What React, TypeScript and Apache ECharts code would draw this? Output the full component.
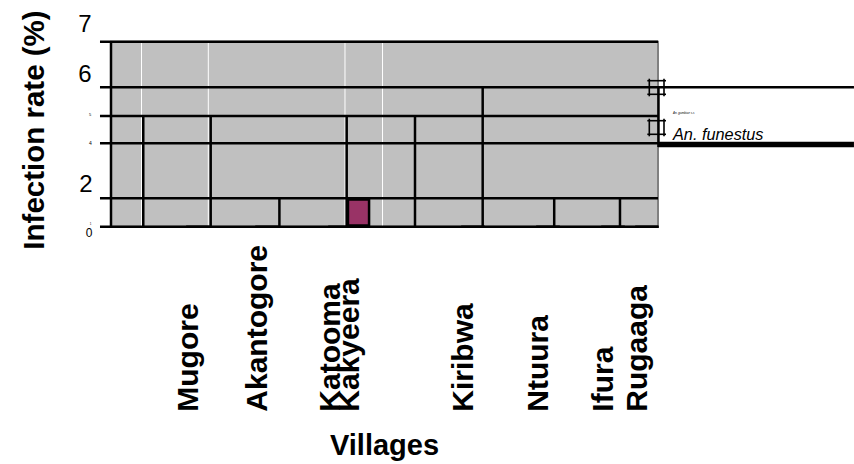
import React, { useEffect, useRef } from 'react';
import * as echarts from 'echarts';

// Villages (x-axis categories) and where each sits along the horizontal axis
const villages = ['Mugore', 'Akantogore', 'Katooma', 'Kakyeera', 'Kiribwa', 'Ntuura', 'Ifura', 'Rugaaga'];
const villageX = [1.272, 2.282, 3.349, 3.62, 5.294, 6.391, 7.342, 7.839];
// Infection rate (%) per village
const infectionRate = [0, 0, 0, 1.075, 0, 0, 0, 0];

// Y tick labels as printed in the figure
const yTickLabels = ['7', '6', '5', '4', '2', '1', '0'];

// Legend entries
const legendNames = ['An. gambiae s.s', 'An. funestus'];

// Horizontal rules: [y, xStart, xEnd]
const hRules = [
  [7, -0.161, 8],
  [5.274, -0.161, 10.866],
  [4.19, -0.161, 8],
  [3.156, -0.161, 8],
  [1.075, -0.161, 8],
  [0, -0.161, 8],
];
const hRulesHeavy = [[3.11, 8, 10.866]];
// Vertical rules: [x, yStart, yEnd]
const vRules = [
  [0, 0, 7],
  [0.472, 0, 4.19],
  [1.458, 0, 4.19],
  [2.463, 0, 1.075],
  [3.447, 0, 4.19],
  [4.446, 0, 4.19],
  [5.436, 0, 5.274],
  [6.482, 0, 1.075],
  [7.444, 0, 1.075],
  [8.007, 3.015, 5.274],
];
const whiteRules = [0.446, 1.423, 3.422, 3.971];

const FONT = '"Liberation Sans", Arial, Helvetica, sans-serif';

function segSeries(name: string, data: number[][], horizontal: boolean, color: string, width: number, z: number) {
  return {
    type: 'custom',
    name,
    data,
    z,
    silent: true,
    clip: false,
    renderItem: (_params: any, api: any) => {
      const a = api.value(0);
      const b = api.value(1);
      const c = api.value(2);
      const p0 = horizontal ? api.coord([b, a]) : api.coord([a, b]);
      const p1 = horizontal ? api.coord([c, a]) : api.coord([a, c]);
      return {
        type: 'line',
        shape: { x1: p0[0], y1: p0[1], x2: p1[0], y2: p1[1] },
        style: { stroke: color, lineWidth: width },
      };
    },
  };
}

// layout of the printed y tick labels: [centerX, centerY, fontSize]
const yTickLayout = [
  [85, 23.6, 24],
  [85, 73.3, 24],
  [90, 114, 4],
  [90.5, 143, 5],
  [86, 183.3, 24],
  [90.5, 224, 3],
  [89, 233, 12],
];

function legendMark(cy: number) {
  const l = 649.3, r = 664, t = cy - 6.8, b = cy + 6.8;
  const st = { stroke: '#000', lineWidth: 1.6 };
  return [
    { type: 'line', shape: { x1: l, y1: t - 2, x2: l, y2: b + 2 }, style: st, z: 10 },
    { type: 'line', shape: { x1: r, y1: t - 2, x2: r, y2: b + 2 }, style: st, z: 10 },
    { type: 'line', shape: { x1: l - 2, y1: t, x2: r + 2, y2: t }, style: st, z: 10 },
    { type: 'line', shape: { x1: l - 2, y1: b, x2: r + 2, y2: b }, style: st, z: 10 },
  ];
}

export default function App() {
  const ref = useRef<HTMLDivElement>(null);
  useEffect(() => {
    document.body.style.margin = '0';
    const chart = echarts.init(ref.current!, undefined, { renderer: 'svg' });
    const graphic: any[] = [];
    yTickLabels.forEach((t, i) => {
      const [x, y, fs] = yTickLayout[i];
      graphic.push({
        type: 'text',
        x,
        y,
        style: {
          text: t,
          fill: '#000',
          fontSize: fs,
          fontFamily: FONT,
          align: 'center',
          verticalAlign: 'middle',
          textAlign: 'center',
          textVerticalAlign: 'middle',
        },
      });
    });
    // y-axis title
    graphic.push({
      type: 'text',
      x: 33.9,
      y: 130,
      rotation: Math.PI / 2,
      style: {
        text: 'Infection rate (%)',
        fill: '#000',
        fontSize: 29.5,
        fontWeight: 'bold',
        fontFamily: FONT,
        align: 'center',
        verticalAlign: 'middle',
        textAlign: 'center',
        textVerticalAlign: 'middle',
      },
    });
    graphic.push(...legendMark(87.5), ...legendMark(127.5));
    graphic.push({
      type: 'text',
      x: 673,
      y: 112.7,
      style: {
        text: legendNames[0], fill: '#000', fontSize: 3, fontStyle: 'italic', fontFamily: FONT,
        align: 'left', verticalAlign: 'middle', textAlign: 'left', textVerticalAlign: 'middle',
      },
    });
    graphic.push({
      type: 'text',
      x: 673,
      y: 133.5,
      style: {
        text: legendNames[1], fill: '#000', fontSize: 16.3, fontStyle: 'italic', fontFamily: FONT,
        align: 'left', verticalAlign: 'middle', textAlign: 'left', textVerticalAlign: 'middle',
      },
    });

    const option: any = {
      animation: false,
      backgroundColor: '#ffffff',
      grid: {
        left: 111,
        top: 41.7,
        width: 547,
        height: 185,
        show: true,
        backgroundColor: '#c0c0c0',
        borderColor: '#808080',
        borderWidth: 2,
        containLabel: false,
        outerBoundsMode: 'none',
      },
      xAxis: {
        type: 'value',
        min: 0,
        max: 8,
        axisLine: { show: false },
        axisTick: { show: false },
        splitLine: { show: false },
        axisLabel: {
          customValues: villageX,
          formatter: (v: number) => {
            let best = 0;
            villageX.forEach((x, i) => {
              if (Math.abs(x - v) < Math.abs(villageX[best] - v)) best = i;
            });
            return villages[best];
          },
          rotate: 90,
          align: 'left',
          verticalAlign: 'bottom',
          lineHeight: 21,
          margin: 185,
          fontSize: 30,
          fontWeight: 'bold',
          fontFamily: FONT,
          color: '#000',
          hideOverlap: false,
        },
        name: 'Villages',
        nameLocation: 'middle',
        nameGap: 218.3,
        nameMoveOverlap: false,
        nameTextStyle: {
          fontSize: 29,
          fontWeight: 'bold',
          fontFamily: FONT,
          color: '#000',
          align: 'center',
          verticalAlign: 'middle',
        },
      },
      yAxis: {
        type: 'value',
        min: 0,
        max: 7,
        axisLine: { show: false },
        axisTick: { show: false },
        axisLabel: { show: false },
        splitLine: { show: false },
      },
      graphic,
      series: [
        segSeries('whiteRules', whiteRules.map((x) => [x, 0, 7]), false, '#ffffff', 1, 1),
        {
          type: 'bar',
          name: 'Infection rate',
          data: villageX.map((x, i) => [x, infectionRate[i]]),
          barWidth: 23.6,
          z: 2,
          itemStyle: { color: '#993366', borderColor: '#000', borderWidth: 2.5 },
        },
        segSeries('hRules', hRules, true, '#000', 2.6, 3),
        segSeries('hRulesHeavy', hRulesHeavy, true, '#000', 5.5, 3),
        segSeries('vRules', vRules, false, '#000', 2.5, 3),
      ],
    };
    chart.setOption(option);
    return () => chart.dispose();
  }, []);
  return <div ref={ref} style={{ width: 854, height: 464 }} />;
}
